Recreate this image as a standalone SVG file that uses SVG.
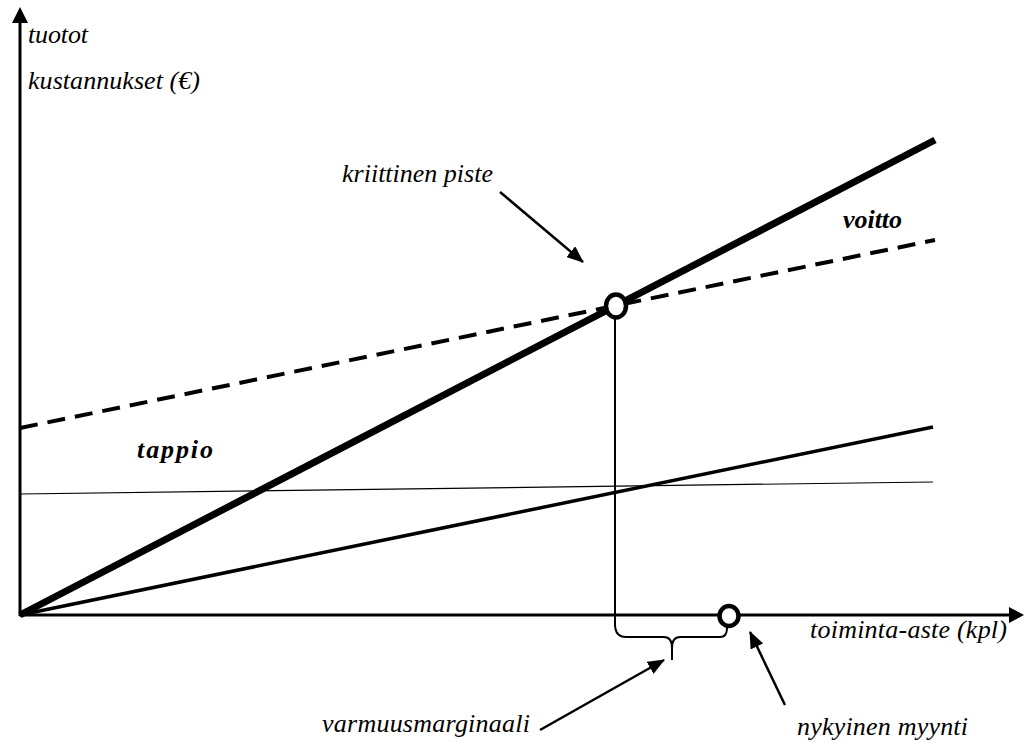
<svg xmlns="http://www.w3.org/2000/svg" width="1024" height="742" viewBox="0 0 1024 742">
<style>
text{font-family:"Liberation Serif","Times New Roman",serif;font-style:italic;font-size:26px;fill:#000}
.b{font-weight:bold}
.ln{fill:none;stroke:#000}
</style>
<defs>
<marker id="sa" markerWidth="17" markerHeight="14" refX="16" refY="7" orient="auto" markerUnits="userSpaceOnUse" viewBox="0 0 17 14">
<path d="M0,0 L17,7 L0,14 Z" fill="#000"/>
</marker>
</defs>
<rect width="1024" height="742" fill="#fff"/>
<g id="axes">
<line class="ln" x1="20" y1="616" x2="20" y2="22" stroke-width="3"/>
<path d="M12,23 L20,7 L28,23 Z" fill="#000"/>
<line class="ln" x1="19" y1="615" x2="1010" y2="615" stroke-width="3"/>
<path d="M1009,607 L1024,615 L1009,623 Z" fill="#000"/>
</g>
<g id="connectors">
<line id="fixed" class="ln" x1="20" y1="494" x2="933" y2="482" stroke-width="1.2"/>
<line id="variable" class="ln" x1="20" y1="615" x2="933" y2="427" stroke-width="3.5"/>
<line id="totalcost" class="ln" x1="20" y1="428" x2="935" y2="240" stroke-width="4" stroke-dasharray="18,10"/>
<line id="revenue" class="ln" x1="20" y1="615" x2="935" y2="140" stroke-width="7"/>
<line class="ln" x1="615" y1="318" x2="615" y2="626" stroke-width="2"/>
<path class="ln" stroke-width="2" d="M615,624 Q615,637 626,637 L664,637 Q672,637 672,648 L672,660 M672,648 Q672,637 680,637 L720,637 Q727,637 727,628"/>
<line class="ln" x1="500" y1="192" x2="583" y2="262" stroke-width="2.5" marker-end="url(#sa)"/>
<line class="ln" x1="540" y1="730" x2="664" y2="660" stroke-width="2.5" marker-end="url(#sa)"/>
<line class="ln" x1="785" y1="705" x2="750" y2="632" stroke-width="2.5" marker-end="url(#sa)"/>
</g>
<g id="kriittinen-piste-node">
<ellipse cx="616" cy="306" rx="10" ry="11.5" fill="#fff" stroke="#000" stroke-width="4.5"/>
</g>
<g id="nykyinen-myynti-node">
<ellipse cx="729" cy="616" rx="9.5" ry="10" fill="#fff" stroke="#000" stroke-width="4.5"/>
</g>
<g id="labels">
<text x="28" y="43" textLength="60">tuotot</text>
<text x="28" y="89" textLength="172">kustannukset (€)</text>
<text x="342" y="182" textLength="151">kriittinen piste</text>
<text class="b" x="843" y="228" textLength="59">voitto</text>
<text class="b" x="137" y="458" textLength="76">tappio</text>
<text x="810" y="638" textLength="197">toiminta-aste (kpl)</text>
<text x="322" y="732" textLength="208">varmuusmarginaali</text>
<text x="797" y="735" textLength="171">nykyinen myynti</text>
</g>
</svg>
